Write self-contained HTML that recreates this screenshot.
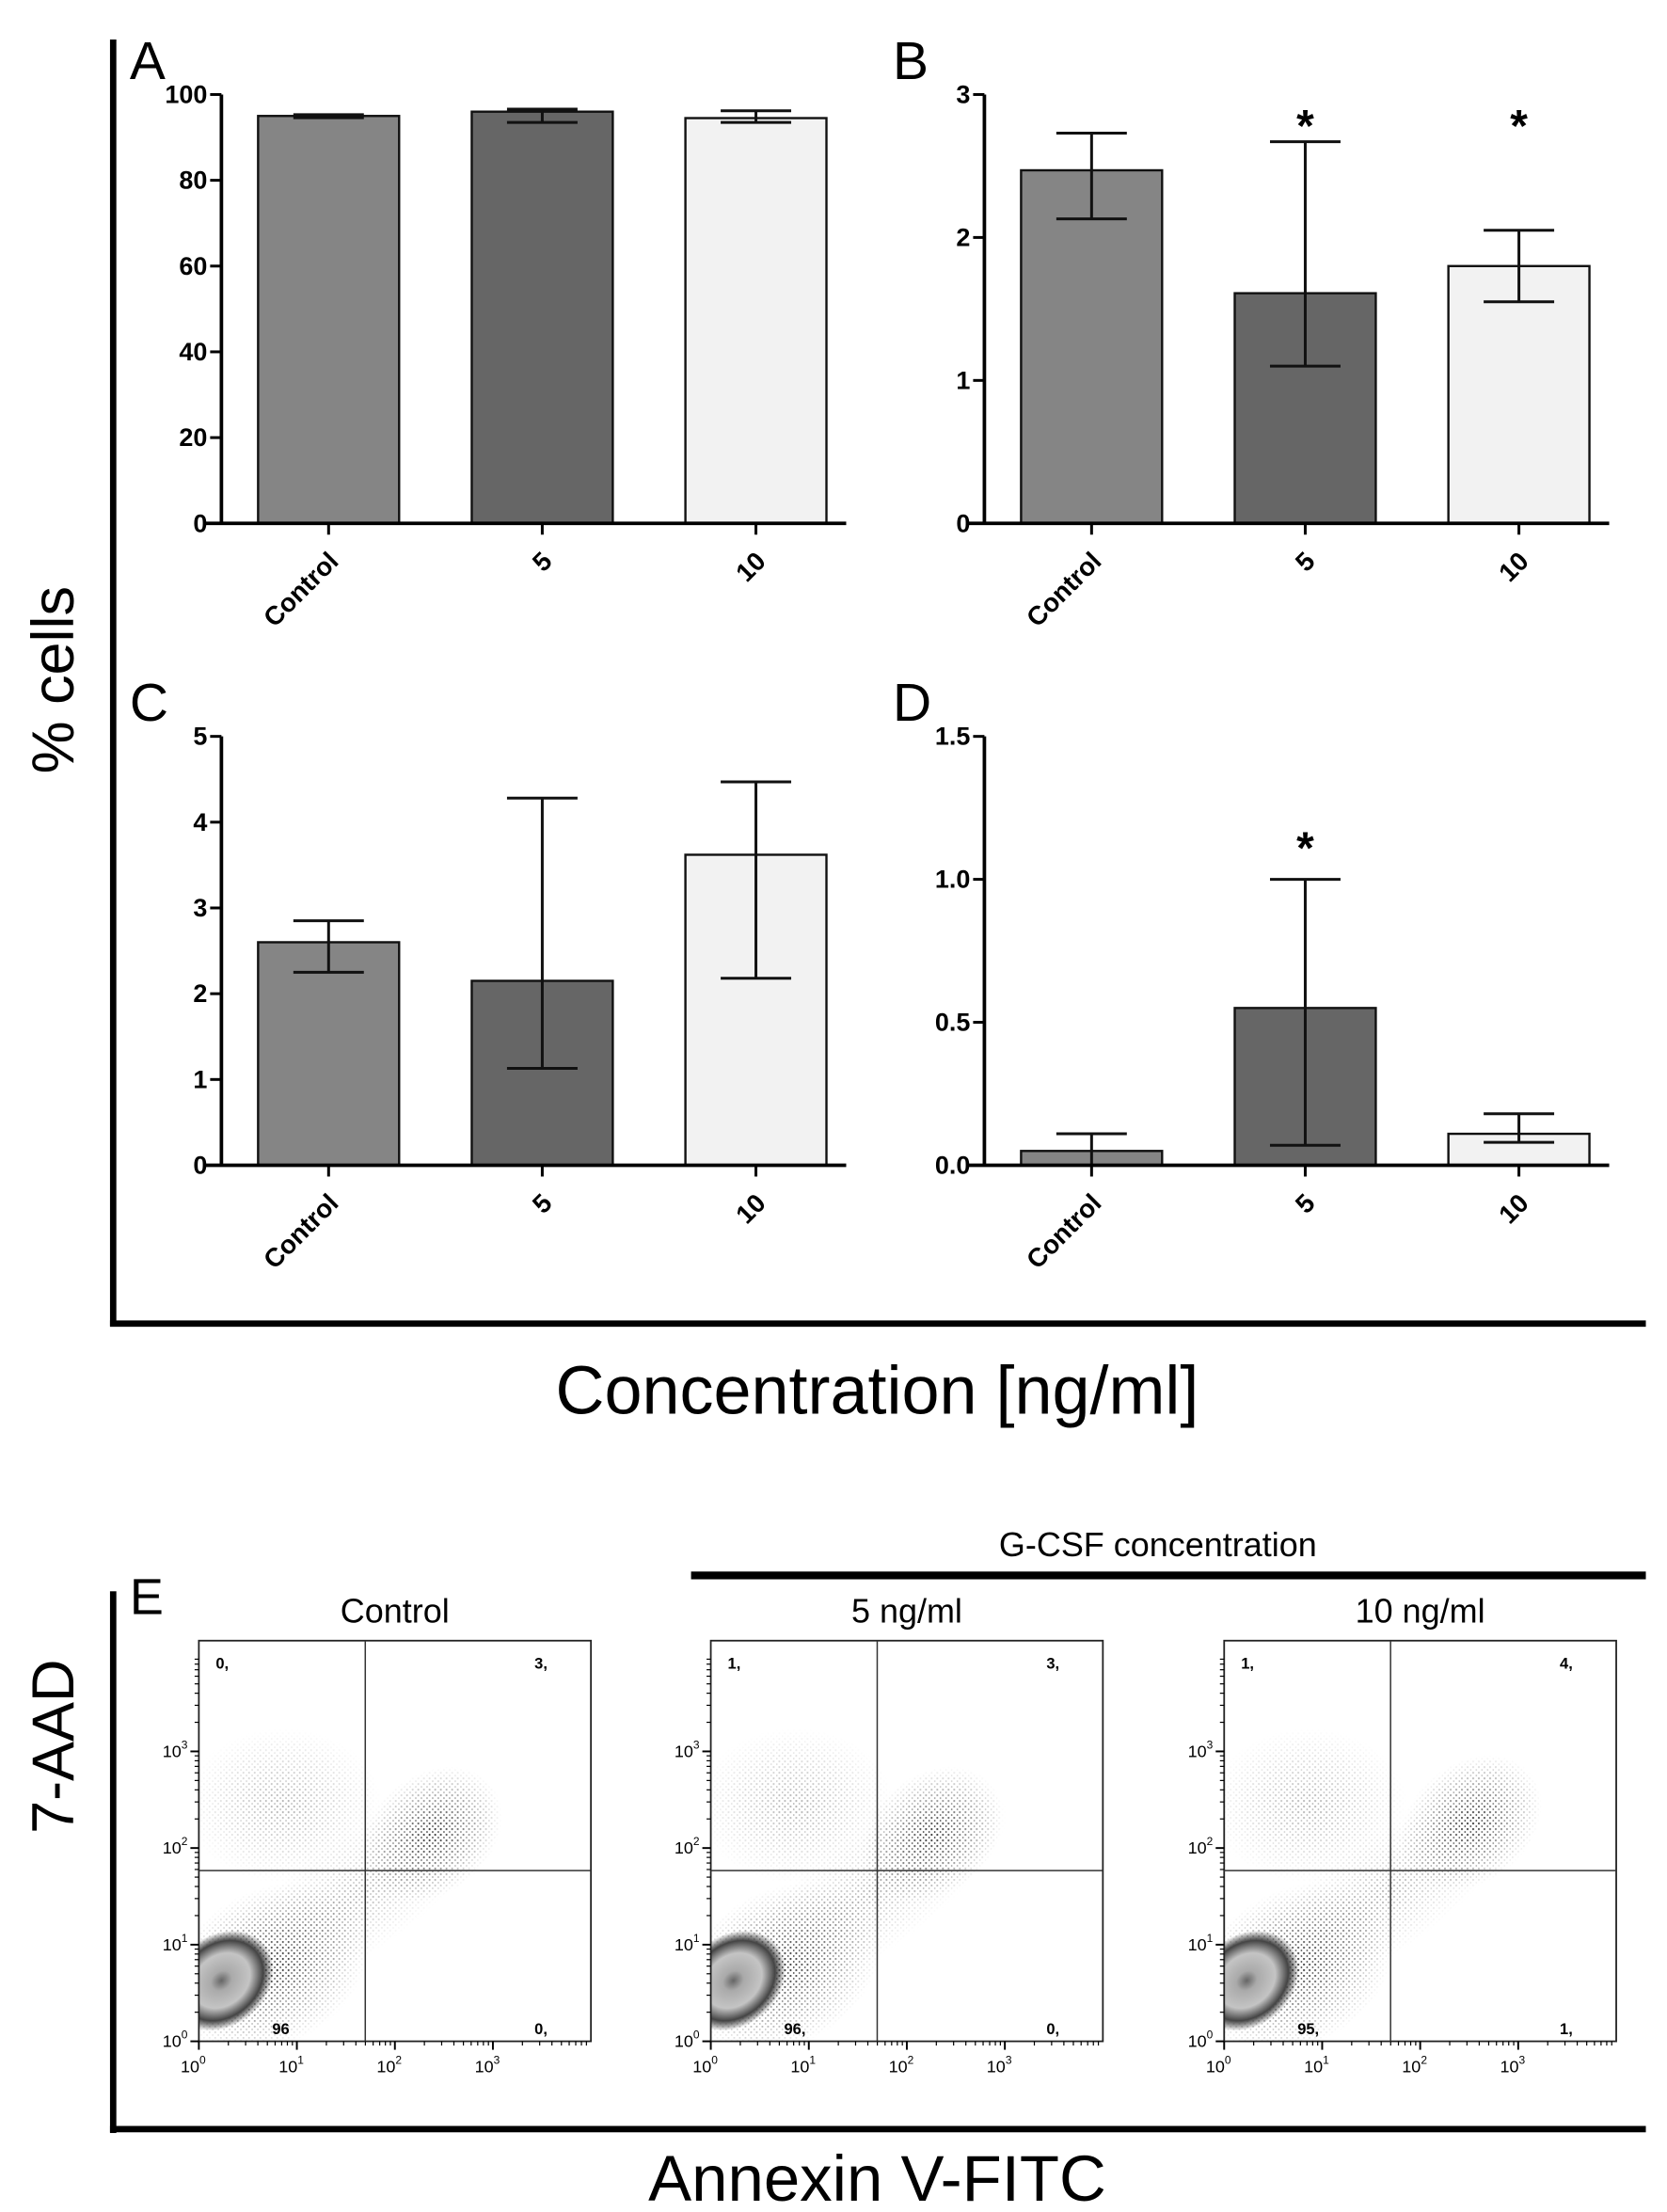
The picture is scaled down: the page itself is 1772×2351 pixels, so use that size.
<!DOCTYPE html>
<html><head><meta charset="utf-8"><style>
html,body{margin:0;padding:0;background:#fff}
svg{display:block}
text{font-family:"Liberation Sans",Arial,sans-serif}
</style></head><body>
<svg id="fig" width="1772" height="2351" viewBox="0 0 1182 1568" preserveAspectRatio="none" xmlns="http://www.w3.org/2000/svg">
<defs>
<pattern id="dots" width="4" height="4" patternUnits="userSpaceOnUse"><rect x="0" y="0" width="1.2" height="1.2" fill="#000"/><rect x="2.3" y="2.1" width="1" height="1" fill="#000"/></pattern>
<radialGradient id="fade"><stop offset="0" stop-color="#fff" stop-opacity="0.9"/><stop offset="0.5" stop-color="#fff" stop-opacity="0.45"/><stop offset="1" stop-color="#fff" stop-opacity="0"/></radialGradient>
<radialGradient id="faint"><stop offset="0" stop-color="#fff" stop-opacity="0.35"/><stop offset="1" stop-color="#fff" stop-opacity="0"/></radialGradient>
<radialGradient id="core"><stop offset="0" stop-color="#666"/><stop offset="0.2" stop-color="#aaa"/><stop offset="0.55" stop-color="#c4c4c4"/><stop offset="0.8" stop-color="#444"/><stop offset="1" stop-color="#333" stop-opacity="0"/></radialGradient>
</defs>
<g id="root"></g>
</svg>
<script>
// ---- data ----
const categories = ["Control","5","10"];
const fills = ["#858585","#666666","#f2f2f2"];
const panelA_values = [95, 96, 94.5];
const panelA_errLow = [94.6, 93.5, 93.5];
const panelA_errHigh = [95.3, 96.6, 96.2];
const panelA_ticks = ["0","20","40","60","80","100"];
const panelB_values = [2.47, 1.61, 1.80];
const panelB_errLow = [2.13, 1.10, 1.55];
const panelB_errHigh = [2.73, 2.67, 2.05];
const panelB_ticks = ["0","1","2","3"];
const panelB_stars = [false, true, true];
const panelC_values = [2.6, 2.15, 3.62];
const panelC_errLow = [2.25, 1.13, 2.18];
const panelC_errHigh = [2.85, 4.28, 4.47];
const panelC_ticks = ["0","1","2","3","4","5"];
const panelD_values = [0.05, 0.55, 0.11];
const panelD_errLow = [0.0, 0.07, 0.08];
const panelD_errHigh = [0.11, 1.0, 0.18];
const panelD_ticks = ["0.0","0.5","1.0","1.5"];
const panelD_stars = [false, true, false];
const flowTitles = ["Control","5 ng/ml","10 ng/ml"];
const flowQuadTL = ["0,","1,","1,"];
const flowQuadTR = ["3,","3,","4,"];
const flowQuadBL = ["96","96,","95,"];
const flowQuadBR = ["0,","0,","1,"];

const NS="http://www.w3.org/2000/svg";
const root=document.getElementById('root');
function mk(tag,attrs,parent,txt){const el=document.createElementNS(NS,tag);for(const k in attrs)el.setAttribute(k,attrs[k]);if(txt!==undefined)el.textContent=txt;(parent||root).appendChild(el);return el;}

let e;
e=mk('rect',{x:78,y:28,width:4.5,height:912,fill:'#000'});


e=mk('rect',{x:78,y:936,width:1089,height:4.5,fill:'#000'});


e=mk('text',{x:0,y:0,'font-size':42,'text-anchor':'middle',transform:'translate(52,482) rotate(-90)',fill:'#000'},root,'% cells');


e=mk('text',{x:622,y:1002,'font-size':48,'text-anchor':'middle',fill:'#000'},root,'Concentration [ng/ml]');



function panel(letter,ox,oy0,oyTop,maxV,ticks,vals,lo,hi,stars,starY){
  const g=mk('g',{});
  
  
  const axX=ox, xEnd=ox+443;
  const y=v=>oy0-(v/maxV)*(oy0-oyTop);
  const bx=i=>ox+26+i*151.5;
  let t=mk('text',{x:ox-65,y:oyTop-11,'font-size':38,fill:'#000'},g,letter);
  
  
  vals.forEach((v,i)=>{
    const r=mk('rect',{x:bx(i),y:y(v),width:100,height:oy0-y(v),fill:fills[i],stroke:'#111','stroke-width':1.6},g);
    
    
    const cx=bx(i)+50;
    const eb=mk('path',{d:`M${cx},${y(lo[i])}V${y(hi[i])}M${cx-25},${y(hi[i])}H${cx+25}M${cx-25},${y(lo[i])}H${cx+25}`,stroke:'#111','stroke-width':2,fill:'none'},g);
    
    
    if(stars&&stars[i]){const s=mk('text',{x:cx,y:starY,'font-size':32,'font-weight':'bold','text-anchor':'middle'},g,'*');
      
      }
    const tk=mk('line',{x1:cx,y1:oy0+1,x2:cx,y2:oy0+8,stroke:'#000','stroke-width':2},g);
    
    
    const lb=mk('text',{x:0,y:0,'font-size':18.5,'font-weight':'bold','text-anchor':'end',transform:`translate(${cx+8},${oy0+28}) rotate(-45)`},g,categories[i]);
    
    
  });
  const ya=mk('line',{x1:axX,y1:oyTop,x2:axX,y2:oy0+1,stroke:'#000','stroke-width':2.5},g);
  
  
  const xa=mk('line',{x1:axX-12,y1:oy0,x2:xEnd,y2:oy0,stroke:'#000','stroke-width':2.5},g);
  
  
  ticks.forEach((tl,i)=>{
    const v=maxV*i/(ticks.length-1);
    const tk=mk('line',{x1:axX-8,y1:y(v),x2:axX,y2:y(v),stroke:'#000','stroke-width':2},g);
    
    
    const tx=mk('text',{x:axX-10,y:y(v)+6,'font-size':18,'font-weight':'bold','text-anchor':'end'},g,tl);
    
    
  });
}
panel('A',157,371,67,100,panelA_ticks,panelA_values,panelA_errLow,panelA_errHigh,null,0);
panel('B',698,371,67,3,panelB_ticks,panelB_values,panelB_errLow,panelB_errHigh,panelB_stars,100);
panel('C',157,826,522,5,panelC_ticks,panelC_values,panelC_errLow,panelC_errHigh,null,0);
panel('D',698,826,522,1.5,panelD_ticks,panelD_values,panelD_errLow,panelD_errHigh,panelD_stars,612);

// ---- panel E ----
e=mk('text',{x:92,y:1144,'font-size':36},root,'E');


e=mk('text',{x:821,y:1103,'font-size':24,'text-anchor':'middle'},root,'G-CSF concentration');


e=mk('rect',{x:490,y:1114,width:677,height:5.5,fill:'#000'});


e=mk('rect',{x:78,y:1128,width:4.5,height:384,fill:'#000'});


e=mk('rect',{x:78,y:1507,width:1089,height:4.5,fill:'#000'});


e=mk('text',{x:0,y:0,'font-size':42,'text-anchor':'middle',transform:'translate(52,1238) rotate(-90)'},root,'7-AAD');


e=mk('text',{x:622,y:1560,'font-size':46,'text-anchor':'middle'},root,'Annexin V-FITC');



const flowX=[141,504,868];
const fW=278, fTop=1163, fBot=1447;
flowX.forEach((x0,k)=>{
  const g=mk('g',{});
  
  
  const tt=mk('text',{x:x0+139,y:1150,'font-size':24,'text-anchor':'middle'},g,flowTitles[k]);
  
  
  const clip=mk('clipPath',{id:'c'+k},g);mk('rect',{x:x0,y:fTop,width:fW,height:fBot-fTop},clip);
  const cg=mk('g',{'clip-path':`url(#c${k})`},g);
  const m=mk('mask',{id:'mk'+k},g);
  mk('rect',{x:x0,y:fTop,width:fW,height:fBot-fTop,fill:'#000'},m);
  const sh=k==0?0:(k==1?-8:10);
  const cxU=x0+165+sh, cyU=1300+(k==2?-8:0);
  mk('ellipse',{cx:cxU,cy:cyU,rx:55,ry:42,fill:'url(#fade)',transform:`rotate(-40 ${cxU} ${cyU})`},m);
  mk('ellipse',{cx:x0+110,cy:1345,rx:120,ry:40,fill:'url(#faint)',transform:`rotate(-35 ${x0+110} 1345)`},m);
  mk('ellipse',{cx:x0+50,cy:1395,rx:75,ry:55,fill:'url(#fade)',transform:`rotate(-30 ${x0+50} 1395)`},m);
  mk('ellipse',{cx:x0+60,cy:1280,rx:70,ry:55,fill:'url(#faint)'},m);
  const d=mk('rect',{x:x0,y:fTop,width:fW,height:fBot-fTop,fill:'url(#dots)',mask:`url(#mk${k})`},cg);
  
  
  const c=mk('ellipse',{cx:x0+16,cy:1404,rx:40,ry:32,fill:'url(#core)',transform:`rotate(-40 ${x0+16} 1404)`},cg);
  
  
  mk('rect',{x:x0,y:fTop,width:fW,height:fBot-fTop,fill:'none',stroke:'#222','stroke-width':1.2},g);
  const qx=x0+118, qy=1326;
  const q=mk('path',{d:`M${qx},${fTop}V${fBot}M${x0},${qy}H${x0+fW}`,stroke:'#333','stroke-width':1},g);
  
  
  [[x0+12,1183,flowQuadTL[k]],[x0+238,1183,flowQuadTR[k]],[x0+52,1442,flowQuadBL[k]],[x0+238,1442,flowQuadBR[k]]].forEach(a=>{
    const l=mk('text',{x:a[0],y:a[1],'font-size':11,'font-weight':'bold'},g,a[2]);
    
    
  });
  for(let i=0;i<4;i++){
    const tx=x0+i*69.5, ty=fBot-i*68.5;
    mk('line',{x1:tx,y1:fBot,x2:tx,y2:fBot+6,stroke:'#000','stroke-width':1.3},g);
    mk('line',{x1:x0-6,y1:ty,x2:x0,y2:ty,stroke:'#000','stroke-width':1.3},g);
    for(let j=2;j<10;j++){const o=Math.log10(j)*69.5;
      mk('line',{x1:tx+o,y1:fBot,x2:tx+o,y2:fBot+3,stroke:'#000','stroke-width':0.8},g);
      if(ty-o*68.5/69.5>fTop) mk('line',{x1:x0-3,y1:ty-o*68.5/69.5,x2:x0,y2:ty-o*68.5/69.5,stroke:'#000','stroke-width':0.8},g);}
    const xl=mk('text',{x:tx-4,y:fBot+22,'font-size':12,'text-anchor':'middle'},g,'10');
    mk('tspan',{dy:-6,'font-size':8},xl,String(i));
    
    
    const yl=mk('text',{x:x0-8,y:ty+4,'font-size':12,'text-anchor':'end'},g,'10');
    mk('tspan',{dy:-6,'font-size':8},yl,String(i));
    
    
  }
});
</script>
</body></html>
